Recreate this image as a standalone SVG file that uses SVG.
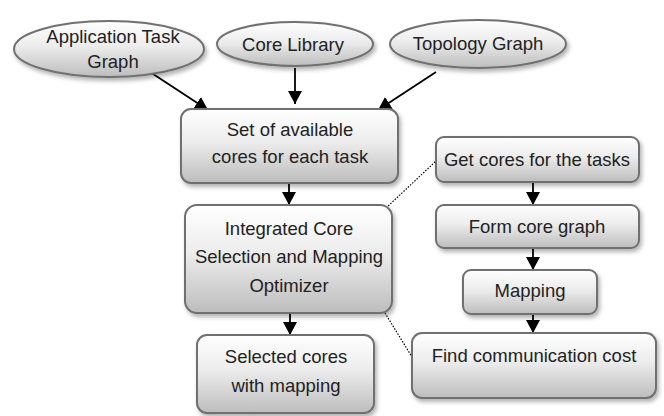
<svg xmlns="http://www.w3.org/2000/svg" width="664" height="416" viewBox="0 0 664 416">
<defs>
  <linearGradient id="g" x1="0" y1="0" x2="0" y2="1">
    <stop offset="0" stop-color="#ffffff"/>
    <stop offset="0.45" stop-color="#ececec"/>
    <stop offset="1" stop-color="#bdbdbd"/>
  </linearGradient>
  <filter id="sh" x="-10%" y="-10%" width="125%" height="135%">
    <feDropShadow dx="2" dy="3" stdDeviation="2" flood-color="#000" flood-opacity="0.3"/>
  </filter>
  <marker id="ah" markerUnits="userSpaceOnUse" markerWidth="14" markerHeight="14" refX="13" refY="7" orient="auto">
    <path d="M0,0 L13,7 L0,14 z" fill="#000"/>
  </marker>
</defs>
<style>
  .n { fill: url(#g); stroke: #707070; stroke-width: 2; filter: url(#sh); }
  .t { font-family: "Liberation Sans", Arial, sans-serif; font-size: 18.5px; fill: #222; text-anchor: middle; }
  .c { stroke: #000; stroke-width: 1.8; fill: none; marker-end: url(#ah); }
  .d { stroke: #000; stroke-width: 1.2; fill: none; stroke-dasharray: 1.5 1.5; }
</style>
<rect width="664" height="416" fill="#fff"/>
<g id="connectors">
  <line class="c" x1="147" y1="70" x2="208" y2="110"/>
  <line class="c" x1="295" y1="68" x2="295" y2="104"/>
  <line class="c" x1="436" y1="72" x2="378" y2="110"/>
  <line class="c" x1="289" y1="183" x2="289" y2="205"/>
  <line class="c" x1="290" y1="313" x2="290" y2="335"/>
  <line class="c" x1="533" y1="182" x2="533" y2="205"/>
  <line class="c" x1="533" y1="248" x2="533" y2="270"/>
  <line class="c" x1="533" y1="314" x2="533" y2="333"/>
  <line class="d" x1="386" y1="208" x2="436" y2="161"/>
  <line class="d" x1="385" y1="313" x2="412" y2="357"/>
</g>
<g id="app-task-graph">
  <ellipse class="n" cx="109" cy="49" rx="95" ry="28"/>
  <text class="t" x="113" y="43">Application Task</text>
  <text class="t" x="113" y="68">Graph</text>
</g>
<g id="core-library">
  <ellipse class="n" cx="295" cy="44" rx="78" ry="22"/>
  <text class="t" x="293" y="51">Core Library</text>
</g>
<g id="topology-graph">
  <ellipse class="n" cx="478" cy="44" rx="88" ry="24"/>
  <text class="t" x="478" y="50">Topology Graph</text>
</g>
<g id="available-cores">
  <rect class="n" x="181" y="109" width="217" height="74" rx="10"/>
  <text class="t" x="290" y="136">Set of available</text>
  <text class="t" x="290" y="163">cores for each task</text>
</g>
<g id="optimizer">
  <rect class="n" x="185" y="205" width="207" height="108" rx="12"/>
  <text class="t" x="289" y="235">Integrated Core</text>
  <text class="t" x="289" y="263">Selection and Mapping</text>
  <text class="t" x="289" y="292">Optimizer</text>
</g>
<g id="selected-cores">
  <rect class="n" x="197" y="335" width="177" height="78" rx="10"/>
  <text class="t" x="286" y="363">Selected cores</text>
  <text class="t" x="286" y="392">with mapping</text>
</g>
<g id="get-cores">
  <rect class="n" x="436" y="137" width="203" height="45" rx="8"/>
  <text class="t" x="537" y="166">Get cores for the tasks</text>
</g>
<g id="form-core-graph">
  <rect class="n" x="436" y="205" width="203" height="43" rx="8"/>
  <text class="t" x="537" y="233">Form core graph</text>
</g>
<g id="mapping">
  <rect class="n" x="463" y="270" width="134" height="44" rx="8"/>
  <text class="t" x="530" y="297">Mapping</text>
</g>
<g id="comm-cost">
  <rect class="n" x="412" y="333" width="244" height="65" rx="10"/>
  <text class="t" x="534" y="362">Find communication cost</text>
</g>
</svg>
